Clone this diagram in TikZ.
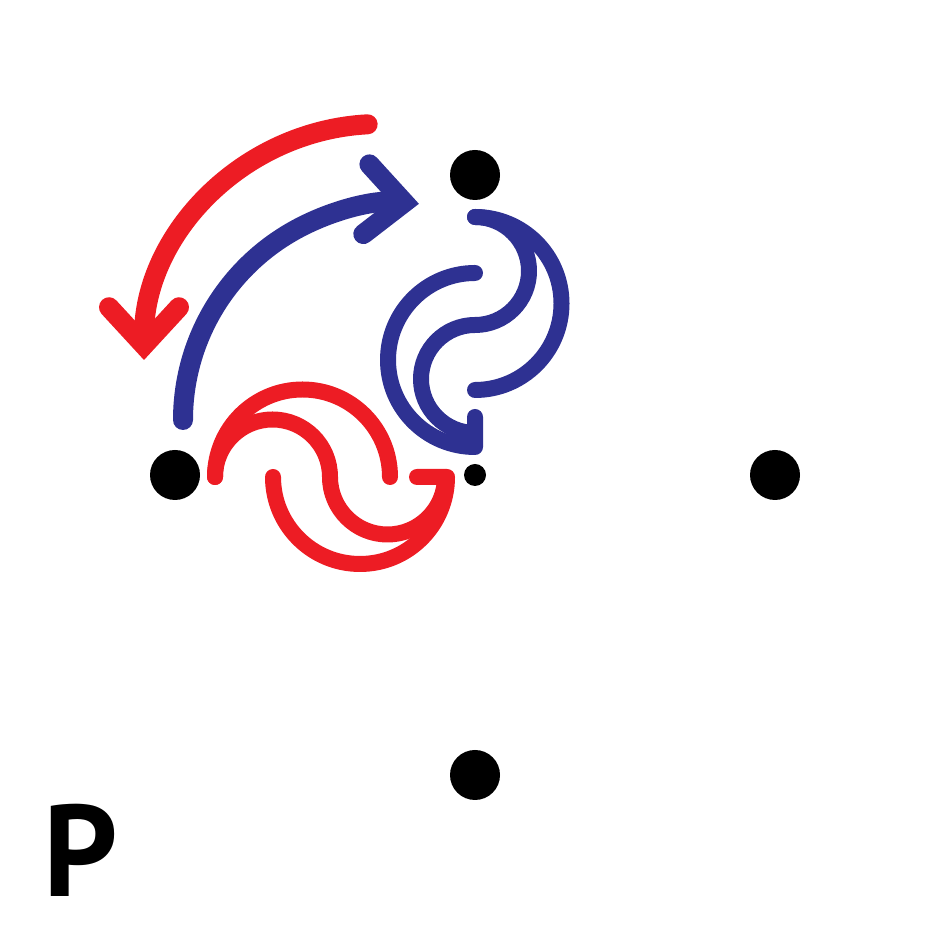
\documentclass[tikz,border=0pt]{standalone}
\usepackage{fontspec}
\setsansfont{PT Sans}
\usetikzlibrary{arrows.meta}
\definecolor{arcred}{HTML}{ED1C24}
\definecolor{arcblue}{HTML}{2E3192}
\begin{document}
\begin{tikzpicture}[
        dot/.style={circle, fill=black, inner sep=0pt, minimum size=0.5cm},
        bigarc/.style={line width=0.2cm, line cap=round, -{Straight Barb[length=3.8mm, width=7mm, line cap=round, line join=miter]}},
        swirl/.style={line width=0.16cm, line cap=round, line join=round}]
        
        \useasboundingbox (0,0) rectangle (9.5,9.5);
        
        % Punkty
        \node[dot] (top) at (4.75,7.75) {};
        \node[dot] (left) at (1.75,4.75) {};
        \node[dot] (right) at (7.75,4.75) {};
        \node[dot] (bottom) at (4.75,1.75) {};
        \node[dot, minimum size=0.22cm] (mid) at (4.75,4.75) {};
        
        % Duze luki
        \draw[bigarc, arcred] ([shift={(93:2.36)}]3.8,5.9) arc[start angle=93, end angle=180, radius=2.36];
        \draw[bigarc, arcblue] ([shift={(180:2.17)}]4.0,5.3) arc[start angle=180, end angle=85, radius=2.17];
        
        % Niebieski wir
        \draw[swirl, arcblue] (4.75,7.33) arc[start angle=90, end angle=-90, radius=0.865];
        \draw[swirl, arcblue] (4.75,7.33) arc[start angle=90, end angle=-90, radius=0.54]
            arc[start angle=90, end angle=270, radius=0.54];
        \draw[swirl, arcblue] (4.75,6.77) arc[start angle=90, end angle=270, radius=0.87] -- ++(0,0.3);
        
        % Czerwony wir
        \draw[swirl, arcred] (2.15,4.73) arc[start angle=180, end angle=0, radius=0.875];
        \draw[swirl, arcred] (2.15,4.73) arc[start angle=180, end angle=0, radius=0.575]
            arc[start angle=180, end angle=360, radius=0.575];
        \draw[swirl, arcred] (2.73,4.73) arc[start angle=180, end angle=360, radius=0.87] -- ++(-0.3,0);
        
        \node[font=\sffamily\bfseries\fontsize{37}{37}\selectfont] (label) at (0.81,1.0) {P};
        
    \end{tikzpicture}
\end{document}
